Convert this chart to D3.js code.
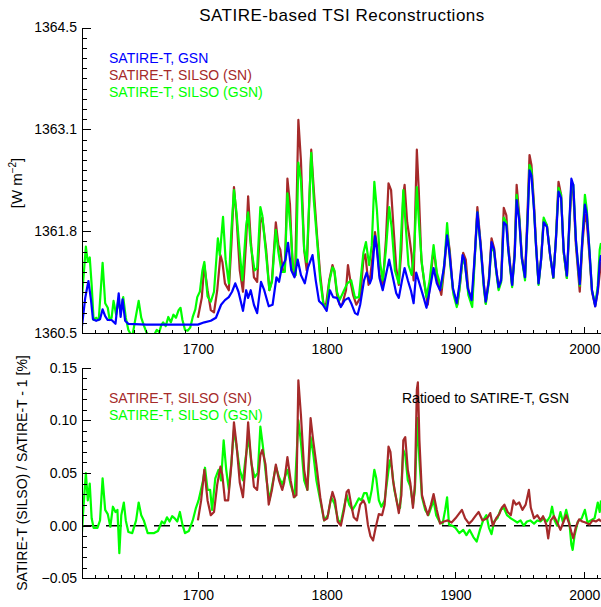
<!DOCTYPE html>
<html>
<head>
<meta charset="utf-8">
<script src="https://cdn.jsdelivr.net/npm/d3@7"></script>
<style>
body { margin: 0; background: #fff; }
svg { display: block; font-family: "Liberation Sans", Arial, sans-serif; }
</style>
</head>
<body>
<svg width="601" height="607"></svg>
<script>
// ---- data: [year, value] ----
var tsiGsn = [
[1610,1360.59],[1612.5,1360.96],[1615,1361.18],[1617,1360.93],[1618.5,1360.68],[1621,1360.66],[1624,1360.68],[1626,1360.81],[1628,1360.72],[1630,1360.67],[1633,1360.67],[1636,1360.62],[1638.5,1361.02],[1640,1360.71],[1641.5,1360.94],[1643.5,1360.66],[1646,1360.62],[1660,1360.61],[1680,1360.61],[1700,1360.61],[1705,1360.64],[1710,1360.66],[1714,1360.70],[1718,1360.87],[1721,1360.93],[1724,1360.97],[1726.5,1361.04],[1729,1361.15],[1731.5,1361.04],[1735,1360.79],[1737.5,1361.06],[1739,1360.96],[1741,1361.06],[1743.5,1360.87],[1746,1360.76],[1749,1361.17],[1751.5,1361.06],[1755,1360.85],[1758,1360.87],[1761,1361.23],[1763,1361.17],[1765,1361.35],[1768,1361.46],[1770,1361.68],[1772.5,1361.32],[1775,1361.23],[1777.5,1361.46],[1780,1361.26],[1783,1361.15],[1785.5,1361.36],[1789,1361.52],[1791.5,1361.19],[1794,1360.92],[1797,1360.87],[1800,1360.79],[1802.5,1361.06],[1805,1360.97],[1808,1360.96],[1811,1360.84],[1814,1360.93],[1817,1360.96],[1819,1360.89],[1822,1360.76],[1824,1360.74],[1826,1360.87],[1829,1361.19],[1831,1361.29],[1833.5,1361.15],[1835,1361.22],[1837.5,1361.77],[1839,1361.59],[1841,1361.22],[1843.5,1361.06],[1846,1361.26],[1848.5,1361.46],[1851,1361.26],[1854,1361.02],[1856,1360.96],[1858.5,1361.19],[1860.5,1361.35],[1863,1361.19],[1865.5,1361.05],[1867.5,1360.89],[1869.5,1361.29],[1872,1361.15],[1875,1360.98],[1877.5,1360.83],[1880,1361.06],[1883,1361.35],[1885.5,1361.15],[1888,1361.06],[1891,1361.35],[1893.5,1361.78],[1895.5,1361.52],[1898,1361.09],[1901,1360.89],[1903,1361.13],[1905.5,1361.52],[1907,1361.46],[1909.5,1361.09],[1912.5,1360.93],[1915,1361.52],[1917,1362.08],[1919.5,1361.65],[1922,1361.13],[1923.5,1360.91],[1926,1361.19],[1928,1361.69],[1930,1361.59],[1931.5,1361.35],[1933.5,1361.10],[1935.5,1361.19],[1937.5,1361.95],[1939.5,1361.91],[1941,1361.59],[1944,1361.13],[1946,1361.52],[1947.5,1362.24],[1949.5,1361.98],[1951.5,1361.48],[1954,1361.23],[1956,1361.98],[1957.5,1362.63],[1959,1362.56],[1961,1362.11],[1962.5,1361.65],[1964.5,1361.15],[1966.5,1361.46],[1968.5,1361.95],[1971,1361.89],[1973.5,1361.52],[1976,1361.23],[1978,1361.72],[1980,1362.35],[1982,1362.27],[1984,1361.59],[1986.5,1361.25],[1988.5,1361.98],[1990,1362.52],[1991.5,1362.44],[1993.5,1361.72],[1996.5,1361.14],[1998.5,1361.72],[2000.5,1362.18],[2002,1362.05],[2004,1361.59],[2006,1361.06],[2008.5,1360.85],[2010.5,1361.06],[2012,1361.43],[2013,1361.52]
];

var tsiSilsoSn = [
[1700,1360.70],[1703,1360.96],[1705,1361.39],[1707.5,1361.06],[1710,1360.80],[1712.5,1360.77],[1715,1361.06],[1717.5,1361.52],[1719,1361.43],[1721,1361.15],[1724,1361.06],[1726,1361.65],[1728,1362.41],[1730,1362.01],[1732.5,1361.32],[1735,1361.04],[1737.5,1361.72],[1739,1362.29],[1741,1361.72],[1743.5,1361.23],[1746,1361.17],[1748.5,1361.95],[1750,1362.01],[1753,1361.59],[1755.5,1361.06],[1757.5,1361.19],[1760.5,1361.95],[1762.5,1361.65],[1764,1361.59],[1766,1361.30],[1767.5,1361.32],[1769.5,1362.52],[1771.5,1362.18],[1773.5,1361.35],[1775.5,1361.25],[1778,1363.29],[1780,1362.76],[1782.5,1361.59],[1784.5,1361.32],[1788,1362.90],[1790,1362.37],[1792.5,1361.78],[1795,1361.26],[1797.5,1360.88],[1799.5,1360.87],[1802,1361.19],[1804.5,1361.39],[1806,1361.30],[1808,1361.00],[1810,1360.87],[1812,1360.87],[1815,1361.06],[1816.5,1361.39],[1818.5,1361.17],[1820.5,1361.00],[1823,1360.87],[1826,1360.96],[1828.5,1361.46],[1830,1361.53],[1832.5,1361.13],[1834,1361.26],[1836,1361.56],[1837.5,1361.82],[1839,1361.65],[1841,1361.26],[1843.5,1361.13],[1846,1361.72],[1848,1362.46],[1850,1362.37],[1852,1361.85],[1854,1361.35],[1856,1361.13],[1858,1361.59],[1859.5,1362.31],[1860.5,1362.44],[1862.5,1361.95],[1864,1361.78],[1866,1361.52],[1867.5,1361.19],[1869,1362.24],[1870,1362.90],[1871.5,1362.37],[1873.5,1361.46],[1876,1361.13],[1878.5,1360.87],[1880.5,1361.19],[1882.5,1361.52],[1884,1361.48],[1886,1361.19],[1889,1361.00],[1891.5,1361.39],[1893.5,1361.82],[1895.5,1361.59],[1898,1361.06],[1901.5,1360.87],[1903.5,1361.13],[1906,1361.55],[1908,1361.46],[1910,1361.06],[1913,1360.93],[1915,1361.52],[1917,1362.15],[1919.5,1361.68],[1922,1361.15],[1923.5,1360.89],[1926,1361.22],[1928,1361.74],[1930,1361.61],[1931.5,1361.35],[1933.5,1361.08],[1935.5,1361.22],[1937.5,1362.14],[1939.5,1362.04],[1941,1361.65],[1944,1361.12],[1946,1361.59],[1947.5,1362.44],[1949.5,1362.04],[1951.5,1361.52],[1954,1361.22],[1956,1362.11],[1957.5,1362.83],[1959,1362.70],[1961,1362.18],[1962.5,1361.69],[1964.5,1361.15],[1966.5,1361.48],[1968.5,1361.98],[1971,1361.91],[1973.5,1361.52],[1976,1361.22],[1978,1361.74],[1980,1362.48],[1982,1362.31],[1984,1361.56],[1986.5,1361.22],[1988.5,1361.91],[1990,1362.40],[1991.5,1362.35],[1993.5,1361.65],[1996.5,1361.04],[1998.5,1361.65],[2000.5,1362.05],[2002,1361.95],[2004,1361.52],[2006,1361.04],[2008.5,1360.85],[2010.5,1361.04],[2013,1361.43]
];

var tsiSilsoGsn = [
[1610,1360.98],[1613,1361.63],[1614.5,1361.43],[1616,1361.49],[1617.5,1361.13],[1619,1360.67],[1621,1360.70],[1623,1360.67],[1626,1361.42],[1628,1360.89],[1630,1360.83],[1631.5,1360.67],[1633,1360.70],[1634.5,1360.92],[1636.5,1360.74],[1638,1360.91],[1640,1360.79],[1642,1360.97],[1644,1360.70],[1646,1360.54],[1649,1360.45],[1651,1360.64],[1654,1360.92],[1656,1360.70],[1658,1360.60],[1660,1360.51],[1662,1360.46],[1665,1360.44],[1668,1360.54],[1670,1360.51],[1671.5,1360.60],[1673,1360.64],[1675,1360.59],[1677,1360.71],[1679,1360.64],[1681,1360.74],[1683,1360.70],[1685,1360.80],[1686.5,1360.83],[1688,1360.67],[1690,1360.54],[1692,1360.53],[1694,1360.57],[1696,1360.71],[1698,1360.81],[1699.5,1360.97],[1701.5,1361.04],[1703.5,1361.32],[1705,1361.43],[1707.5,1360.98],[1710,1360.91],[1712.5,1361.04],[1715.5,1361.74],[1717,1361.52],[1719.5,1362.02],[1721.5,1361.46],[1724,1361.15],[1726,1361.85],[1728,1362.37],[1730,1362.07],[1732,1361.65],[1734.5,1361.19],[1737.5,1361.91],[1739,1362.08],[1741,1361.65],[1744,1361.32],[1746,1361.35],[1748.5,1362.15],[1750,1362.04],[1753,1361.52],[1755.5,1361.06],[1757.5,1361.17],[1760.5,1361.85],[1762.5,1361.56],[1765,1361.30],[1767.5,1361.30],[1769.5,1362.33],[1772,1361.85],[1774,1361.35],[1776,1361.26],[1778,1362.73],[1780,1362.50],[1782.5,1361.59],[1784.5,1361.43],[1788,1362.86],[1790,1362.24],[1792.5,1361.72],[1795,1361.19],[1797.5,1360.87],[1800,1360.84],[1802,1361.17],[1804.5,1361.36],[1806,1361.32],[1808,1361.04],[1810,1360.93],[1813,1361.04],[1816,1361.15],[1819,1361.19],[1822,1360.96],[1825,1360.97],[1828.5,1361.55],[1830.5,1361.69],[1833,1361.39],[1835,1361.65],[1837,1362.48],[1839,1362.11],[1841.5,1361.42],[1843.5,1361.19],[1846,1361.59],[1848.5,1362.15],[1850.5,1361.87],[1853,1361.32],[1856,1361.15],[1859.5,1362.37],[1861.5,1361.87],[1863.5,1361.39],[1866,1361.26],[1868,1361.59],[1870,1362.41],[1872,1361.85],[1874,1361.39],[1877.5,1360.97],[1880,1361.19],[1883,1361.65],[1885.5,1361.29],[1889,1361.09],[1891.5,1361.43],[1893.5,1361.94],[1896,1361.39],[1898.5,1361.00],[1901,1360.84],[1903,1361.06],[1905.5,1361.48],[1907.5,1361.39],[1910,1361.00],[1913,1360.84],[1915,1361.48],[1917,1362.08],[1919.5,1361.63],[1922,1361.09],[1923.5,1360.88],[1926,1361.17],[1928,1361.65],[1930,1361.56],[1931.5,1361.32],[1933.5,1361.06],[1935.5,1361.17],[1937.5,1362.01],[1939.5,1361.95],[1941,1361.59],[1944,1361.10],[1946,1361.52],[1947.5,1362.31],[1949.5,1362.01],[1951.5,1361.48],[1954,1361.19],[1956,1361.98],[1957.5,1362.70],[1959,1362.63],[1961,1362.11],[1962.5,1361.65],[1964.5,1361.13],[1966.5,1361.46],[1968.5,1362.01],[1971,1361.91],[1973.5,1361.52],[1976,1361.22],[1978,1361.74],[1980,1362.40],[1982,1362.31],[1984,1361.56],[1986.5,1361.22],[1988.5,1361.95],[1990,1362.46],[1991.5,1362.44],[1993.5,1361.72],[1996.5,1361.12],[1998.5,1361.72],[2000.5,1362.31],[2002,1362.11],[2004,1361.59],[2006,1361.06],[2008.5,1360.87],[2010.5,1361.12],[2012,1361.59],[2013,1361.68]
];

// ratio to SATIRE-T GSN, in percent
var ratioSn = [
[1700,0.005],[1702.5,0.024],[1705,0.053],[1707.5,0.024],[1710,0.010],[1712.5,0.013],[1715,0.039],[1717.5,0.056],[1719,0.048],[1721,0.024],[1723.5,0.024],[1726,0.058],[1728,0.098],[1730,0.077],[1732.5,0.041],[1735,0.027],[1737.5,0.067],[1739,0.098],[1741,0.067],[1743.5,0.037],[1746,0.034],[1748.5,0.067],[1750,0.072],[1752.5,0.058],[1755,0.020],[1757.5,0.034],[1760.5,0.058],[1763,0.043],[1765.5,0.034],[1767,0.041],[1769.5,0.065],[1772,0.043],[1774.5,0.027],[1776.5,0.029],[1778,0.138],[1780,0.105],[1782.5,0.053],[1785,0.034],[1787.5,0.102],[1789.5,0.081],[1792,0.058],[1795,0.027],[1798,0.005],[1800.5,0.007],[1803,0.024],[1804.5,0.032],[1806.5,0.024],[1808.5,0.004],[1811,0.000],[1813.5,0.015],[1815.5,0.032],[1817,0.034],[1819,0.020],[1821,0.008],[1823.5,0.005],[1826,0.020],[1828.5,0.024],[1830,0.020],[1832,0.001],[1834,-0.010],[1836,-0.014],[1838,-0.002],[1840.5,0.011],[1843,0.010],[1845,0.020],[1846.5,0.045],[1848,0.075],[1849.5,0.070],[1851.5,0.043],[1853.5,0.029],[1856,0.012],[1858,0.029],[1859.5,0.081],[1861,0.084],[1863,0.053],[1865,0.040],[1867,0.017],[1868.5,0.039],[1870,0.129],[1870.8,0.136],[1872,0.081],[1874,0.029],[1876,0.020],[1878.5,0.010],[1881,0.020],[1883,0.030],[1885.5,0.015],[1888,0.002],[1891,0.004],[1894,0.005],[1897,0.003],[1900,0.007],[1902.5,0.011],[1905,0.015],[1907.5,0.007],[1910.5,0.002],[1913,0.005],[1916,0.010],[1918,0.013],[1921,0.005],[1924.5,0.007],[1927,0.012],[1929,0.000],[1931.5,0.007],[1934,0.011],[1936,0.017],[1938,0.020],[1940.5,0.013],[1943,0.010],[1945,0.024],[1947,0.020],[1949.5,0.022],[1952,0.015],[1954.5,0.020],[1957,0.034],[1958.5,0.017],[1961,0.007],[1963.5,0.010],[1966,0.005],[1968,0.009],[1970.5,0.001],[1972,-0.012],[1974,0.005],[1976.5,0.009],[1979,0.003],[1981.5,-0.004],[1984,0.004],[1986,0.010],[1988,0.003],[1990,-0.006],[1991.5,-0.012],[1993.5,-0.001],[1996,0.006],[1998.5,0.004],[2001,0.003],[2004,0.001],[2006.5,0.005],[2009,0.004],[2011.5,0.006],[2013,0.004]
];

var ratioGsn = [
[1610,-0.006],[1611,0.015],[1613,0.050],[1614.5,0.024],[1616,0.040],[1617.5,0.007],[1619,-0.002],[1622,-0.002],[1624,0.005],[1626,0.045],[1628,0.015],[1630,0.011],[1632,-0.001],[1634,0.018],[1636,0.013],[1637.5,0.015],[1639,-0.026],[1640.5,0.010],[1642.5,0.022],[1644,0.005],[1646,-0.006],[1649,-0.007],[1652,0.005],[1654,0.022],[1656,0.010],[1658,0.005],[1661,-0.007],[1666,-0.007],[1669,-0.005],[1672,0.004],[1674,0.002],[1676,0.008],[1678,0.004],[1680,0.009],[1682,0.007],[1684,0.004],[1686,0.013],[1688,0.001],[1690,-0.007],[1693,-0.005],[1696,0.005],[1698.5,0.017],[1700.5,0.024],[1702,0.032],[1704,0.043],[1705.5,0.055],[1707.5,0.034],[1709.5,0.034],[1711,0.015],[1713.5,0.045],[1716,0.053],[1718,0.043],[1720,0.081],[1722,0.053],[1724,0.034],[1726,0.060],[1728,0.091],[1730,0.075],[1732.5,0.053],[1735,0.043],[1737,0.064],[1739.5,0.084],[1741.5,0.059],[1744,0.046],[1746.5,0.050],[1748.5,0.094],[1750.5,0.075],[1753,0.046],[1755.5,0.024],[1757.5,0.037],[1760.5,0.056],[1763,0.046],[1765.5,0.039],[1769.5,0.053],[1772,0.039],[1775,0.027],[1778,0.100],[1780,0.079],[1782.5,0.043],[1785,0.034],[1787.5,0.084],[1789.5,0.069],[1792,0.043],[1795,0.024],[1798,0.005],[1801,0.010],[1803.5,0.027],[1806,0.021],[1809,0.005],[1811,0.003],[1813,0.015],[1815.5,0.029],[1817.5,0.020],[1820,0.015],[1822.5,0.020],[1825,0.026],[1827,0.024],[1829,0.031],[1831,0.031],[1833,0.022],[1835,0.034],[1837,0.053],[1838.5,0.045],[1840.5,0.024],[1842.5,0.018],[1845,0.024],[1847,0.043],[1849,0.062],[1850.5,0.055],[1852.5,0.034],[1855,0.020],[1857,0.017],[1859.5,0.072],[1861,0.067],[1863,0.043],[1865,0.037],[1867,0.020],[1868.5,0.034],[1870.5,0.102],[1872,0.062],[1874,0.027],[1876.5,0.015],[1879,0.010],[1881,0.017],[1883,0.024],[1885,0.010],[1887.5,0.004],[1890,0.002],[1892,0.015],[1893.5,0.027],[1895,0.001],[1897.5,0.000],[1900,-0.002],[1903,-0.007],[1906,-0.004],[1908.5,-0.009],[1911,-0.004],[1914,-0.011],[1916.5,-0.015],[1919,-0.004],[1921.5,0.005],[1924,0.010],[1926,-0.002],[1928,-0.008],[1930,0.004],[1932.5,0.007],[1935,0.015],[1937.5,0.017],[1940,0.010],[1943,0.007],[1945.5,0.005],[1948,0.003],[1950.5,0.005],[1953,0.000],[1955.5,0.004],[1958,0.005],[1961,0.002],[1963.5,0.005],[1966,0.004],[1968.5,0.007],[1971,0.004],[1973.5,0.009],[1975,0.018],[1977,0.005],[1979,0.000],[1981.5,0.013],[1983.5,0.003],[1986,0.015],[1988.5,0.002],[1990,-0.018],[1991,-0.023],[1992.5,-0.009],[1995,0.004],[1998,0.007],[2000.5,0.015],[2002.5,0.003],[2005,0.005],[2008,0.007],[2010.5,0.022],[2012,0.013],[2013,0.024]
];

var yearTicks = [1700, 1800, 1900, 2000];
var tsiTicks = [1360.5, 1361.8333, 1363.1667, 1364.5];
var tsiTickLabels = ["1360.5", "1361.8", "1363.1", "1364.5"];
var ratioTicks = [-0.05, 0.00, 0.05, 0.10, 0.15];

var blue = "#0000ff", brown = "#a52a2a", green = "#00ff00";

var svg = d3.select('svg');

var scaleX = d3.scaleLinear().domain([1610, 2013]).range([82, 601]);
var scaleTop = d3.scaleLinear().domain([1360.5, 1364.5]).range([333, 27.5]);
var scaleBot = d3.scaleLinear().domain([-0.05, 0.15]).range([578.4, 367.6]);

var defs = svg.append('defs');
defs.append('clipPath').attr('id', 'clipTop').append('rect')
  .attr('x', 82).attr('y', 27.5).attr('width', 519).attr('height', 305.5);
defs.append('clipPath').attr('id', 'clipBot').append('rect')
  .attr('x', 82).attr('y', 367.6).attr('width', 519).attr('height', 210.8);

function styleAxis(g) {
  g.attr('font-size', 14).attr('font-family', null);
  g.selectAll('text').attr('fill', '#000');
  g.selectAll('line, path').attr('stroke', '#000').attr('shape-rendering', 'crispEdges');
}

// ---------- top panel ----------
var lineTop = d3.line()
  .x(function(d){ return scaleX(d[0]); })
  .y(function(d){ return scaleTop(d[1]); });

var topPanel = svg.append('g').attr('clip-path', 'url(#clipTop)');
[[tsiSilsoSn, brown], [tsiSilsoGsn, green], [tsiGsn, blue]].forEach(function(s){
  topPanel.append('path')
    .attr('d', lineTop(s[0]))
    .attr('fill', 'none')
    .attr('stroke', s[1])
    .attr('stroke-width', 2.2)
    .attr('stroke-linejoin', 'round');
});

var topMinor = d3.range(0, 31).map(function(i){ return 1360.5 + i * 4 / 30; });
svg.append('g').attr('transform', 'translate(82,0)')
  .call(d3.axisLeft(scaleTop).tickValues(topMinor).tickSize(-5).tickSizeOuter(0).tickFormat(''))
  .call(styleAxis);
svg.append('g').attr('transform', 'translate(82,0)')
  .call(d3.axisLeft(scaleTop).tickValues(tsiTicks).tickSize(-9).tickSizeOuter(0).tickPadding(5)
    .tickFormat(function(d, i){ return tsiTickLabels[i]; }))
  .call(styleAxis);

var xMinor = d3.range(1620, 2013, 10).filter(function(d){ return d % 100 !== 0; });
svg.append('g').attr('transform', 'translate(0,333)')
  .call(d3.axisBottom(scaleX).tickValues(xMinor).tickSize(-3).tickSizeOuter(0).tickFormat(''))
  .call(styleAxis);
svg.append('g').attr('transform', 'translate(0,333)')
  .call(d3.axisBottom(scaleX).tickValues(yearTicks).tickSize(-6).tickSizeOuter(0).tickPadding(11).tickFormat(d3.format('d')))
  .call(styleAxis);

svg.append('text').attr('x', 342).attr('y', 21)
  .attr('text-anchor', 'middle').attr('font-size', 17).attr('letter-spacing', 0.5)
  .text('SATIRE-based TSI Reconstructions');

var legTop = [["SATIRE-T, GSN", blue], ["SATIRE-T, SILSO (SN)", brown], ["SATIRE-T, SILSO (GSN)", green]];
legTop.forEach(function(l, i){
  svg.append('text').attr('x', 109).attr('y', 62.5 + i * 17)
    .attr('font-size', 14).attr('fill', l[1]).text(l[0]);
});

var yLab = svg.append('text').attr('transform', 'translate(22,183) rotate(-90)')
  .attr('text-anchor', 'middle').attr('font-size', 15);
yLab.append('tspan').text('[W m');
yLab.append('tspan').attr('dy', -6).attr('font-size', 10).text('\u22122');
yLab.append('tspan').attr('dy', 6).text(']');

// ---------- bottom panel ----------
var lineBot = d3.line()
  .x(function(d){ return scaleX(d[0]); })
  .y(function(d){ return scaleBot(d[1]); });

svg.append('line')
  .attr('x1', scaleX(1610)).attr('x2', scaleX(2013))
  .attr('y1', scaleBot(0)).attr('y2', scaleBot(0))
  .attr('stroke', '#000').attr('stroke-width', 1.5).attr('stroke-dasharray', '16,8');

var botPanel = svg.append('g').attr('clip-path', 'url(#clipBot)');
[[ratioGsn, green], [ratioSn, brown]].forEach(function(s){
  botPanel.append('path')
    .attr('d', lineBot(s[0]))
    .attr('fill', 'none')
    .attr('stroke', s[1])
    .attr('stroke-width', 2.2)
    .attr('stroke-linejoin', 'round');
});

var botMinor = d3.range(0, 21).map(function(i){ return -0.05 + i * 0.01; });
svg.append('g').attr('transform', 'translate(82,0)')
  .call(d3.axisLeft(scaleBot).tickValues(botMinor).tickSize(-5).tickSizeOuter(0).tickFormat(''))
  .call(styleAxis);
svg.append('g').attr('transform', 'translate(82,0)')
  .call(d3.axisLeft(scaleBot).tickValues(ratioTicks).tickSize(-9).tickSizeOuter(0).tickPadding(5).tickFormat(d3.format('.2f')))
  .call(styleAxis);

svg.append('g').attr('transform', 'translate(0,578.4)')
  .call(d3.axisBottom(scaleX).tickValues(xMinor).tickSize(-3).tickSizeOuter(0).tickFormat(''))
  .call(styleAxis);
svg.append('g').attr('transform', 'translate(0,578.4)')
  .call(d3.axisBottom(scaleX).tickValues(yearTicks).tickSize(-6).tickSizeOuter(0).tickPadding(12).tickFormat(d3.format('d')))
  .call(styleAxis);

var legBot = [["SATIRE-T, SILSO (SN)", brown], ["SATIRE-T, SILSO (GSN)", green]];
legBot.forEach(function(l, i){
  svg.append('text').attr('x', 109).attr('y', 403.3 + i * 17)
    .attr('font-size', 14).attr('fill', l[1]).text(l[0]);
});
svg.append('text').attr('x', 402).attr('y', 402.7)
  .attr('font-size', 14).text('Ratioed to SATIRE-T, GSN');

svg.append('text').attr('transform', 'translate(27,473) rotate(-90)')
  .attr('text-anchor', 'middle').attr('font-size', 14)
  .text('SATIRE-T (SILSO) / SATIRE-T - 1 [%]');
</script>
</body>
</html>
